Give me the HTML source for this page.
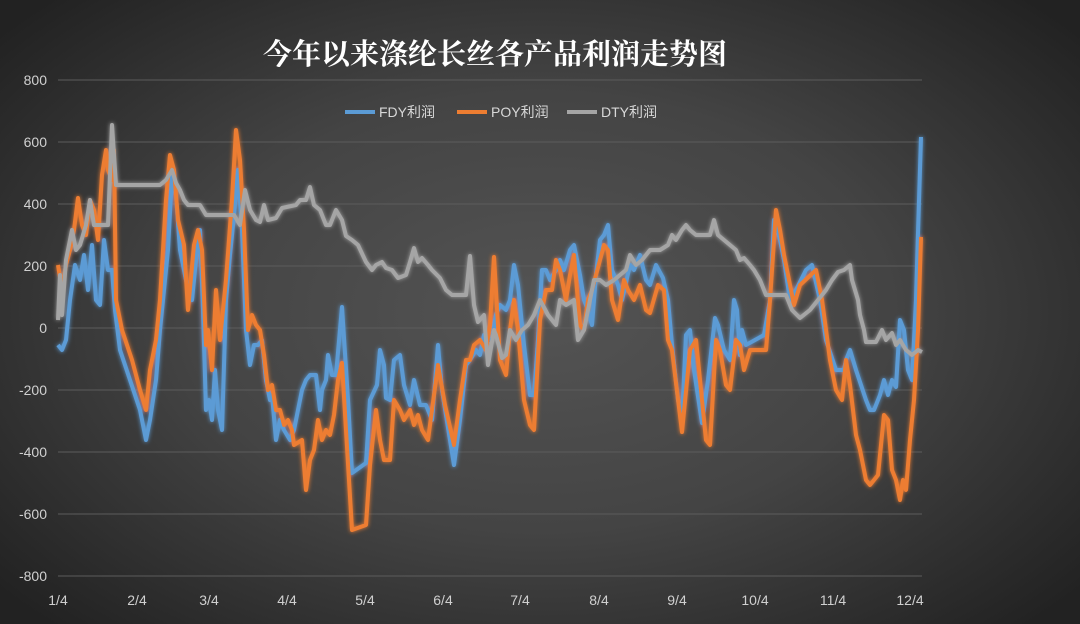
<!DOCTYPE html>
<html><head><meta charset="utf-8"><style>
html,body{margin:0;padding:0;}
body{width:1080px;height:624px;overflow:hidden;background:radial-gradient(ellipse 65% 70% at 50% 50%,#545454 0%,#444 50%,#2c2c2c 85%,#222 100%);}
svg{position:absolute;left:0;top:0;}
text{font-family:"Liberation Sans","Noto Sans CJK SC",sans-serif;}
</style></head><body>
<svg width="1080" height="624" viewBox="0 0 1080 624">
<defs><filter id="g" x="-5%" y="-5%" width="110%" height="110%"><feGaussianBlur stdDeviation="2" result="b"/><feMerge><feMergeNode in="b"/><feMergeNode in="SourceGraphic"/></feMerge></filter></defs>
<g stroke="#5c5c5c" stroke-width="1">
<line x1="58" x2="922" y1="80" y2="80"/><line x1="58" x2="922" y1="142" y2="142"/><line x1="58" x2="922" y1="204" y2="204"/><line x1="58" x2="922" y1="266" y2="266"/><line x1="58" x2="922" y1="328" y2="328"/><line x1="58" x2="922" y1="390" y2="390"/><line x1="58" x2="922" y1="452" y2="452"/><line x1="58" x2="922" y1="514" y2="514"/><line x1="58" x2="922" y1="576" y2="576"/>
</g>
<g fill="#d0d0d0" font-size="14" text-anchor="end">
<text x="47" y="85">800</text><text x="47" y="147">600</text><text x="47" y="209">400</text><text x="47" y="271">200</text><text x="47" y="333">0</text><text x="47" y="395">-200</text><text x="47" y="457">-400</text><text x="47" y="519">-600</text><text x="47" y="581">-800</text>
</g>
<g fill="#d0d0d0" font-size="14" text-anchor="middle">
<text x="58" y="605">1/4</text><text x="137" y="605">2/4</text><text x="209" y="605">3/4</text><text x="287" y="605">4/4</text><text x="365" y="605">5/4</text><text x="443" y="605">6/4</text><text x="520" y="605">7/4</text><text x="599" y="605">8/4</text><text x="677" y="605">9/4</text><text x="755" y="605">10/4</text><text x="833" y="605">11/4</text><text x="910" y="605">12/4</text>
</g>
<text x="495" y="64" fill="#fff" font-size="29" font-weight="bold" text-anchor="middle" style="font-family:'Noto Serif CJK SC','Noto Sans CJK SC',serif">今年以来涤纶长丝各产品利润走势图</text>
<g font-size="14" fill="#d8d8d8">
<line x1="345" x2="375" y1="112" y2="112" stroke="#5b9bd5" stroke-width="4"/><text x="379" y="117">FDY利润</text>
<line x1="457" x2="487" y1="112" y2="112" stroke="#ed7d31" stroke-width="4"/><text x="491" y="117">POY利润</text>
<line x1="567" x2="597" y1="112" y2="112" stroke="#a5a5a5" stroke-width="4"/><text x="601" y="117">DTY利润</text>
</g>
<g fill="none" stroke-width="4" stroke-linejoin="round" filter="url(#g)">
<polyline stroke="#5b9bd5" points="58,345 62,350 66,340 70,300 75,265 80,280 84,255 88,290 92,245 96,300 100,305 104,240 108,270 112,270 115,310 120,350 130,380 140,410 146,440 150,420 156,380 160,330 168,250 172,175 176,195 180,250 184,270 188,290 192,300 196,260 200,230 203,310 206,410 209,400 212,420 215,370 218,410 222,430 226,300 230,255 234,215 238,170 242,230 246,330 250,365 254,345 258,345 262,340 266,380 270,400 272,395 276,440 280,420 284,430 290,440 294,430 298,410 302,390 306,380 310,375 316,375 320,410 322,390 326,380 328,355 332,375 336,375 342,307 348,400 352,473 366,463 370,400 377,385 380,350 384,365 386,398 390,400 394,360 400,355 404,385 410,405 414,380 420,405 426,405 432,420 438,345 442,390 454,465 460,420 466,365 470,360 476,350 480,355 484,335 488,340 492,340 496,315 500,305 506,310 510,300 514,265 518,285 524,345 530,395 534,395 538,340 542,270 546,270 550,280 556,270 560,260 564,270 570,250 574,245 580,275 584,300 588,310 592,325 596,275 600,240 604,235 608,225 612,270 618,285 622,300 630,265 634,270 640,255 646,280 650,285 656,265 663,278 668,300 672,345 678,400 682,420 686,335 690,330 694,370 702,423 708,380 715,318 718,325 724,350 730,360 734,300 737,310 740,355 742,330 746,345 764,335 770,300 774,220 778,230 784,260 790,300 796,290 806,270 812,265 820,300 826,340 836,370 844,370 846,360 850,350 856,370 866,400 870,410 874,410 880,395 884,380 888,395 892,380 896,387 900,320 904,330 908,370 912,380 916,300 918,233 921,137"/>
<polyline stroke="#ed7d31" points="58,265 62,290 66,265 70,250 74,230 78,198 82,225 86,235 90,200 94,210 98,240 102,175 106,150 108,170 112,180 114,150 116,300 122,330 132,360 140,390 146,410 150,370 156,340 160,300 166,200 170,155 174,170 178,220 184,245 188,310 194,245 198,230 202,250 206,345 208,330 212,370 216,290 220,340 226,280 232,200 236,130 240,160 244,230 248,330 252,315 256,325 260,330 264,355 268,390 272,385 276,410 280,410 284,425 288,420 292,430 294,445 302,440 306,490 310,460 314,450 318,420 322,440 326,430 330,435 334,415 338,380 342,363 346,430 352,530 366,525 370,465 376,410 380,440 384,460 390,460 394,400 400,410 404,420 410,410 414,425 418,415 422,430 428,440 438,365 445,405 454,445 460,400 466,360 470,360 474,345 480,340 486,350 490,325 494,257 500,360 506,375 510,330 514,300 518,330 524,400 530,425 534,430 540,320 546,290 552,290 556,260 560,270 566,300 570,275 574,255 580,325 584,330 588,300 592,290 600,260 604,245 608,250 612,300 618,320 624,280 628,290 634,300 640,285 646,310 650,313 658,285 664,290 668,340 672,350 682,432 690,350 696,340 706,440 710,445 716,340 720,350 726,385 730,390 736,340 740,345 744,370 750,350 766,350 770,300 776,210 780,230 784,255 790,285 794,305 800,285 816,270 822,300 830,360 836,390 842,400 846,360 850,385 856,435 860,450 866,480 870,485 878,475 884,415 888,420 892,470 896,480 900,500 903,480 906,490 910,440 914,400 918,330 921,237"/>
<polyline stroke="#a5a5a5" points="58,320 60,275 62,315 66,260 72,230 76,250 80,245 86,225 90,200 94,225 108,225 112,125 116,185 160,185 166,180 172,170 176,183 180,190 184,200 188,205 200,205 206,215 234,215 240,225 245,190 250,210 256,220 260,222 264,205 268,220 276,218 282,208 296,205 300,200 306,200 310,187 314,205 320,210 326,225 330,225 336,210 342,220 346,236 352,240 358,245 366,262 372,270 376,265 382,262 386,268 392,270 398,278 406,275 410,262 414,248 418,262 422,258 428,265 432,270 440,278 446,290 452,295 466,295 470,256 474,305 478,322 484,315 488,365 494,330 496,335 502,358 506,355 510,330 516,340 522,330 528,325 534,315 540,300 548,315 556,325 560,300 566,305 574,300 578,340 584,330 590,300 594,280 600,280 606,285 614,280 620,275 626,270 630,255 636,265 642,260 650,250 660,250 668,245 672,235 676,240 682,230 686,225 690,230 696,235 710,235 714,220 718,235 724,240 730,245 736,250 740,260 744,258 750,265 754,270 760,280 766,295 786,295 792,310 800,318 810,310 818,300 826,290 832,280 838,272 844,270 850,265 852,280 858,300 860,315 864,330 866,342 876,342 882,330 886,340 892,333 896,345 900,340 906,350 912,355 918,350 922,352"/>
</g>
</svg>
</body></html>
